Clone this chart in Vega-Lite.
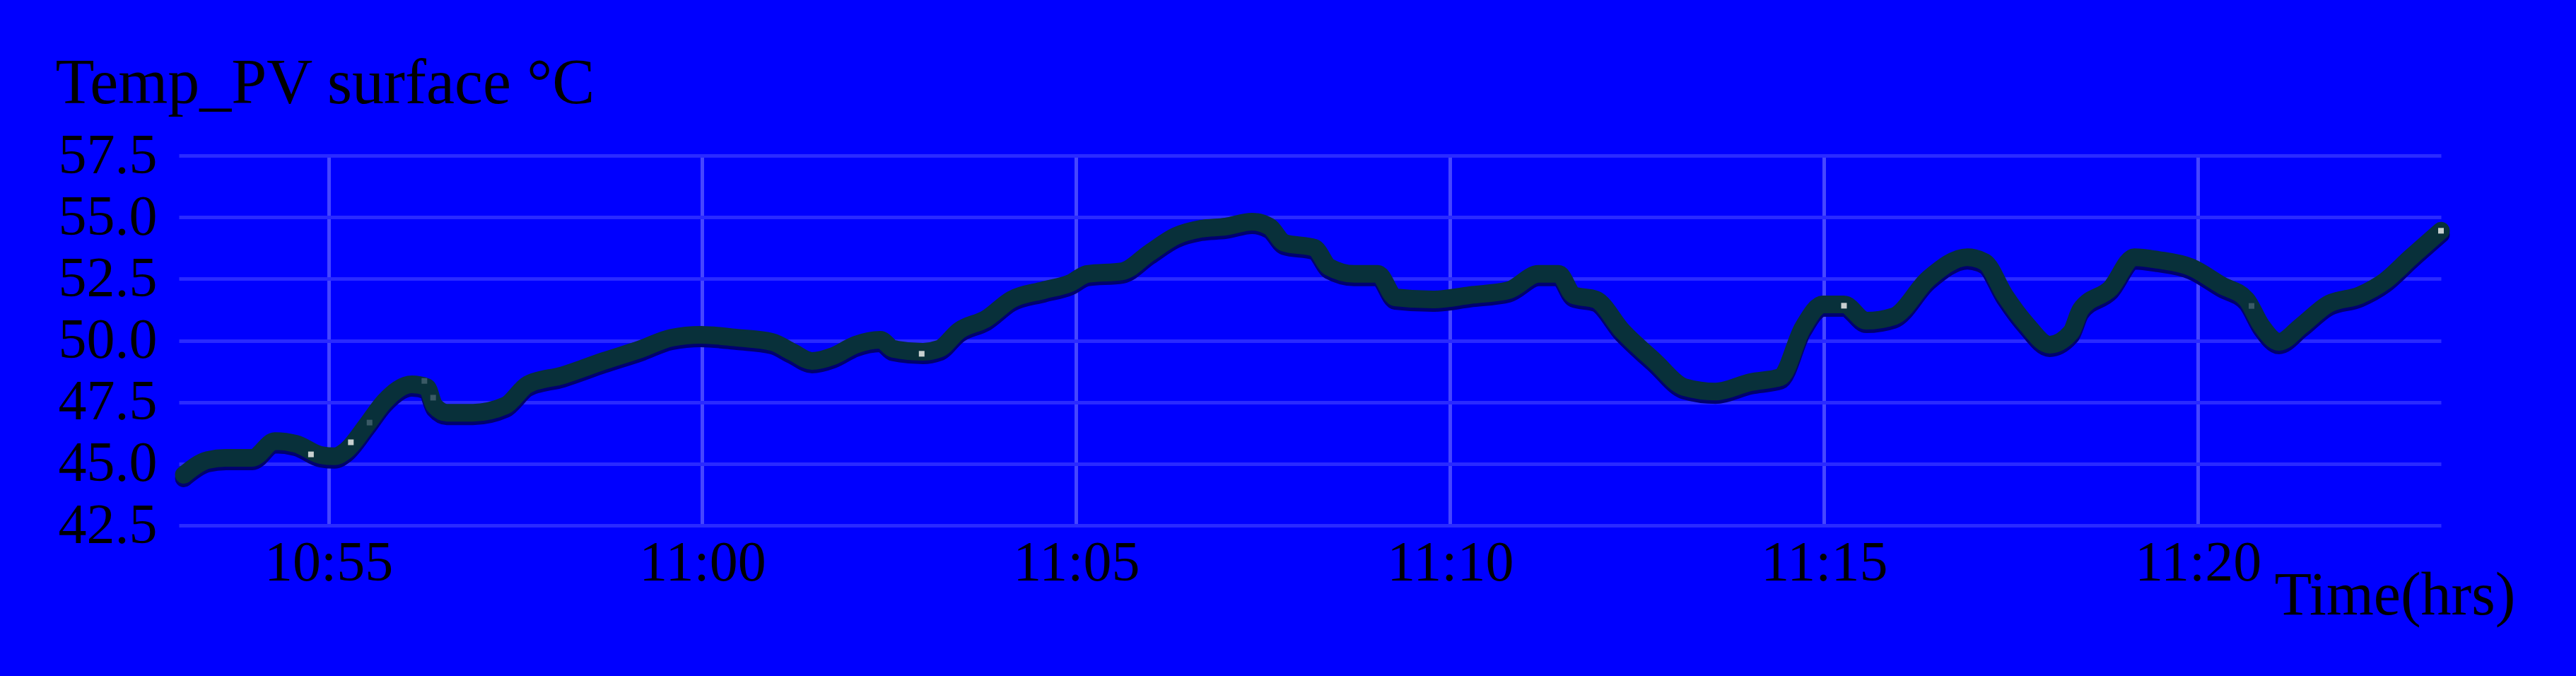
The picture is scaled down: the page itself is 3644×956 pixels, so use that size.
{
  "$schema": "https://vega.github.io/schema/vega-lite/v6.json",
  "width": 3200,
  "height": 523,
  "autosize": {"type": "none"},
  "padding": {"left": 253, "top": 220, "right": 191, "bottom": 213},
  "background": "#0000FF",
  "config": {"view": {"stroke": null}, "font": "Liberation Serif"},
  "datasets": {
    "temp": [
      {"time": "2020-01-01T10:53:04", "temp": 44.55},
      {"time": "2020-01-01T10:53:23", "temp": 45.15},
      {"time": "2020-01-01T10:53:38", "temp": 45.24},
      {"time": "2020-01-01T10:53:59", "temp": 45.24},
      {"time": "2020-01-01T10:54:17", "temp": 45.92},
      {"time": "2020-01-01T10:54:34", "temp": 45.81},
      {"time": "2020-01-01T10:54:54", "temp": 45.35},
      {"time": "2020-01-01T10:55:05", "temp": 45.30},
      {"time": "2020-01-01T10:55:14", "temp": 45.53},
      {"time": "2020-01-01T10:55:31", "temp": 46.59},
      {"time": "2020-01-01T10:55:45", "temp": 47.53},
      {"time": "2020-01-01T10:56:07", "temp": 48.22},
      {"time": "2020-01-01T10:56:19", "temp": 48.11},
      {"time": "2020-01-01T10:56:25", "temp": 47.36},
      {"time": "2020-01-01T10:56:35", "temp": 47.07},
      {"time": "2020-01-01T10:56:56", "temp": 47.07},
      {"time": "2020-01-01T10:57:22", "temp": 47.36},
      {"time": "2020-01-01T10:57:40", "temp": 48.22},
      {"time": "2020-01-01T10:58:08", "temp": 48.59},
      {"time": "2020-01-01T10:58:41", "temp": 49.17},
      {"time": "2020-01-01T10:59:11", "temp": 49.66},
      {"time": "2020-01-01T10:59:35", "temp": 50.11},
      {"time": "2020-01-01T10:59:59", "temp": 50.23},
      {"time": "2020-01-01T11:00:28", "temp": 50.11},
      {"time": "2020-01-01T11:00:56", "temp": 49.94},
      {"time": "2020-01-01T11:01:12", "temp": 49.54},
      {"time": "2020-01-01T11:01:28", "temp": 49.17},
      {"time": "2020-01-01T11:01:45", "temp": 49.37},
      {"time": "2020-01-01T11:02:03", "temp": 49.83},
      {"time": "2020-01-01T11:02:23", "temp": 50.03},
      {"time": "2020-01-01T11:02:33", "temp": 49.66},
      {"time": "2020-01-01T11:02:57", "temp": 49.54},
      {"time": "2020-01-01T11:03:10", "temp": 49.66},
      {"time": "2020-01-01T11:03:26", "temp": 50.40},
      {"time": "2020-01-01T11:03:48", "temp": 50.89},
      {"time": "2020-01-01T11:04:08", "temp": 51.66},
      {"time": "2020-01-01T11:04:34", "temp": 52.04},
      {"time": "2020-01-01T11:04:55", "temp": 52.32},
      {"time": "2020-01-01T11:05:09", "temp": 52.70},
      {"time": "2020-01-01T11:05:37", "temp": 52.81},
      {"time": "2020-01-01T11:05:59", "temp": 53.56},
      {"time": "2020-01-01T11:06:20", "temp": 54.24},
      {"time": "2020-01-01T11:06:40", "temp": 54.53},
      {"time": "2020-01-01T11:07:00", "temp": 54.62},
      {"time": "2020-01-01T11:07:21", "temp": 54.82},
      {"time": "2020-01-01T11:07:35", "temp": 54.62},
      {"time": "2020-01-01T11:07:47", "temp": 53.96},
      {"time": "2020-01-01T11:08:11", "temp": 53.76},
      {"time": "2020-01-01T11:08:23", "temp": 52.98},
      {"time": "2020-01-01T11:08:43", "temp": 52.70},
      {"time": "2020-01-01T11:09:02", "temp": 52.70},
      {"time": "2020-01-01T11:09:16", "temp": 51.75},
      {"time": "2020-01-01T11:09:46", "temp": 51.66},
      {"time": "2020-01-01T11:10:16", "temp": 51.84},
      {"time": "2020-01-01T11:10:47", "temp": 52.04},
      {"time": "2020-01-01T11:11:11", "temp": 52.70},
      {"time": "2020-01-01T11:11:27", "temp": 52.70},
      {"time": "2020-01-01T11:11:39", "temp": 51.84},
      {"time": "2020-01-01T11:11:57", "temp": 51.66},
      {"time": "2020-01-01T11:12:18", "temp": 50.40},
      {"time": "2020-01-01T11:12:44", "temp": 49.17},
      {"time": "2020-01-01T11:13:08", "temp": 48.11},
      {"time": "2020-01-01T11:13:33", "temp": 47.93},
      {"time": "2020-01-01T11:14:01", "temp": 48.31},
      {"time": "2020-01-01T11:14:25", "temp": 48.51},
      {"time": "2020-01-01T11:14:43", "temp": 50.52},
      {"time": "2020-01-01T11:14:59", "temp": 51.46},
      {"time": "2020-01-01T11:15:16", "temp": 51.46},
      {"time": "2020-01-01T11:15:34", "temp": 50.80},
      {"time": "2020-01-01T11:15:56", "temp": 50.98},
      {"time": "2020-01-01T11:16:24", "temp": 52.52},
      {"time": "2020-01-01T11:16:55", "temp": 53.38},
      {"time": "2020-01-01T11:17:09", "temp": 53.18},
      {"time": "2020-01-01T11:17:25", "temp": 51.84},
      {"time": "2020-01-01T11:17:42", "temp": 50.69},
      {"time": "2020-01-01T11:18:01", "temp": 49.83},
      {"time": "2020-01-01T11:18:18", "temp": 50.32},
      {"time": "2020-01-01T11:18:26", "temp": 51.26},
      {"time": "2020-01-01T11:18:50", "temp": 52.12},
      {"time": "2020-01-01T11:19:09", "temp": 53.38},
      {"time": "2020-01-01T11:19:28", "temp": 53.27},
      {"time": "2020-01-01T11:19:54", "temp": 52.98},
      {"time": "2020-01-01T11:20:19", "temp": 52.24},
      {"time": "2020-01-01T11:20:39", "temp": 51.66},
      {"time": "2020-01-01T11:20:51", "temp": 50.60},
      {"time": "2020-01-01T11:21:05", "temp": 49.94},
      {"time": "2020-01-01T11:21:23", "temp": 50.60},
      {"time": "2020-01-01T11:21:44", "temp": 51.46},
      {"time": "2020-01-01T11:22:10", "temp": 51.84},
      {"time": "2020-01-01T11:22:30", "temp": 52.41},
      {"time": "2020-01-01T11:22:51", "temp": 53.38},
      {"time": "2020-01-01T11:23:15", "temp": 54.45}
    ],
    "markers": [
      {"time": "2020-01-01T10:54:46", "temp": 45.38, "kind": "bright"},
      {"time": "2020-01-01T10:55:18", "temp": 45.87, "kind": "bright"},
      {"time": "2020-01-01T10:55:33", "temp": 46.67, "kind": "dim"},
      {"time": "2020-01-01T10:56:17", "temp": 48.36, "kind": "dim"},
      {"time": "2020-01-01T10:56:24", "temp": 47.68, "kind": "dim"},
      {"time": "2020-01-01T11:02:56", "temp": 49.46, "kind": "bright"},
      {"time": "2020-01-01T11:15:16", "temp": 51.41, "kind": "bright"},
      {"time": "2020-01-01T11:20:43", "temp": 51.40, "kind": "dim"},
      {"time": "2020-01-01T11:23:15", "temp": 54.45, "kind": "bright"}
    ]
  },
  "encoding": {
    "x": {
      "field": "time",
      "type": "temporal",
      "scale": {
        "domain": [
          {"year": 2020, "month": 1, "date": 1, "hours": 10, "minutes": 53, "seconds": 0},
          {"year": 2020, "month": 1, "date": 1, "hours": 11, "minutes": 23, "seconds": 15}
        ]
      },
      "axis": {
        "values": [
          {"year": 2020, "month": 1, "date": 1, "hours": 10, "minutes": 55},
          {"year": 2020, "month": 1, "date": 1, "hours": 11, "minutes": 0},
          {"year": 2020, "month": 1, "date": 1, "hours": 11, "minutes": 5},
          {"year": 2020, "month": 1, "date": 1, "hours": 11, "minutes": 10},
          {"year": 2020, "month": 1, "date": 1, "hours": 11, "minutes": 15},
          {"year": 2020, "month": 1, "date": 1, "hours": 11, "minutes": 20}
        ],
        "format": "%H:%M",
        "title": "Time(hrs)",
        "grid": true,
        "gridColor": "#4646FF",
        "gridWidth": 5,
        "domain": false,
        "ticks": false,
        "tickSize": 0,
        "labelFont": "Liberation Serif",
        "labelFontSize": 80,
        "labelColor": "#000000",
        "labelPadding": 14,
        "labelLimit": 0,
        "labelFlush": false,
        "labelOverlap": false,
        "titleFont": "Liberation Serif",
        "titleFontSize": 86,
        "titleFontWeight": "normal",
        "titleColor": "#000000",
        "titleX": 2964,
        "titleY": 125,
        "titleAlign": "left",
        "titleBaseline": "alphabetic",
        "titleLimit": 0
      }
    },
    "y": {
      "field": "temp",
      "type": "quantitative",
      "scale": {"domain": [42.5, 57.5], "nice": false, "zero": false},
      "axis": {
        "values": [42.5, 45, 47.5, 50, 52.5, 55, 57.5],
        "format": ".1f",
        "title": "Temp_PV surface °C",
        "titleAngle": 0,
        "titleAlign": "left",
        "titleBaseline": "alphabetic",
        "titleX": -175,
        "titleY": -75,
        "titleFont": "Liberation Serif",
        "titleFontSize": 90,
        "titleFontWeight": "normal",
        "titleColor": "#000000",
        "titleLimit": 0,
        "grid": true,
        "gridColor": "#2A2AFF",
        "gridWidth": 5,
        "domain": false,
        "ticks": false,
        "tickSize": 0,
        "labelFont": "Liberation Serif",
        "labelFontSize": 80,
        "labelColor": "#000000",
        "labelPadding": 31,
        "labelLimit": 0,
        "labelFlush": false,
        "labelOverlap": false
      }
    }
  },
  "layer": [
    {
      "data": {"name": "temp"},
      "mark": {"type": "line", "color": "#000070", "strokeWidth": 25, "yOffset": 5, "strokeCap": "round", "strokeJoin": "round", "interpolate": "monotone", "clip": false}
    },
    {
      "data": {"name": "temp"},
      "mark": {"type": "line", "color": "#08303A", "strokeWidth": 25, "strokeCap": "round", "strokeJoin": "round", "interpolate": "monotone", "clip": false}
    },
    {
      "data": {"name": "markers"},
      "mark": {"type": "square", "size": 64, "filled": true, "opacity": 1},
      "encoding": {
        "color": {
          "field": "kind",
          "type": "nominal",
          "scale": {"domain": ["bright", "dim"], "range": ["#C8D0D0", "#3A5A66"]},
          "legend": null
        }
      }
    }
  ]
}
